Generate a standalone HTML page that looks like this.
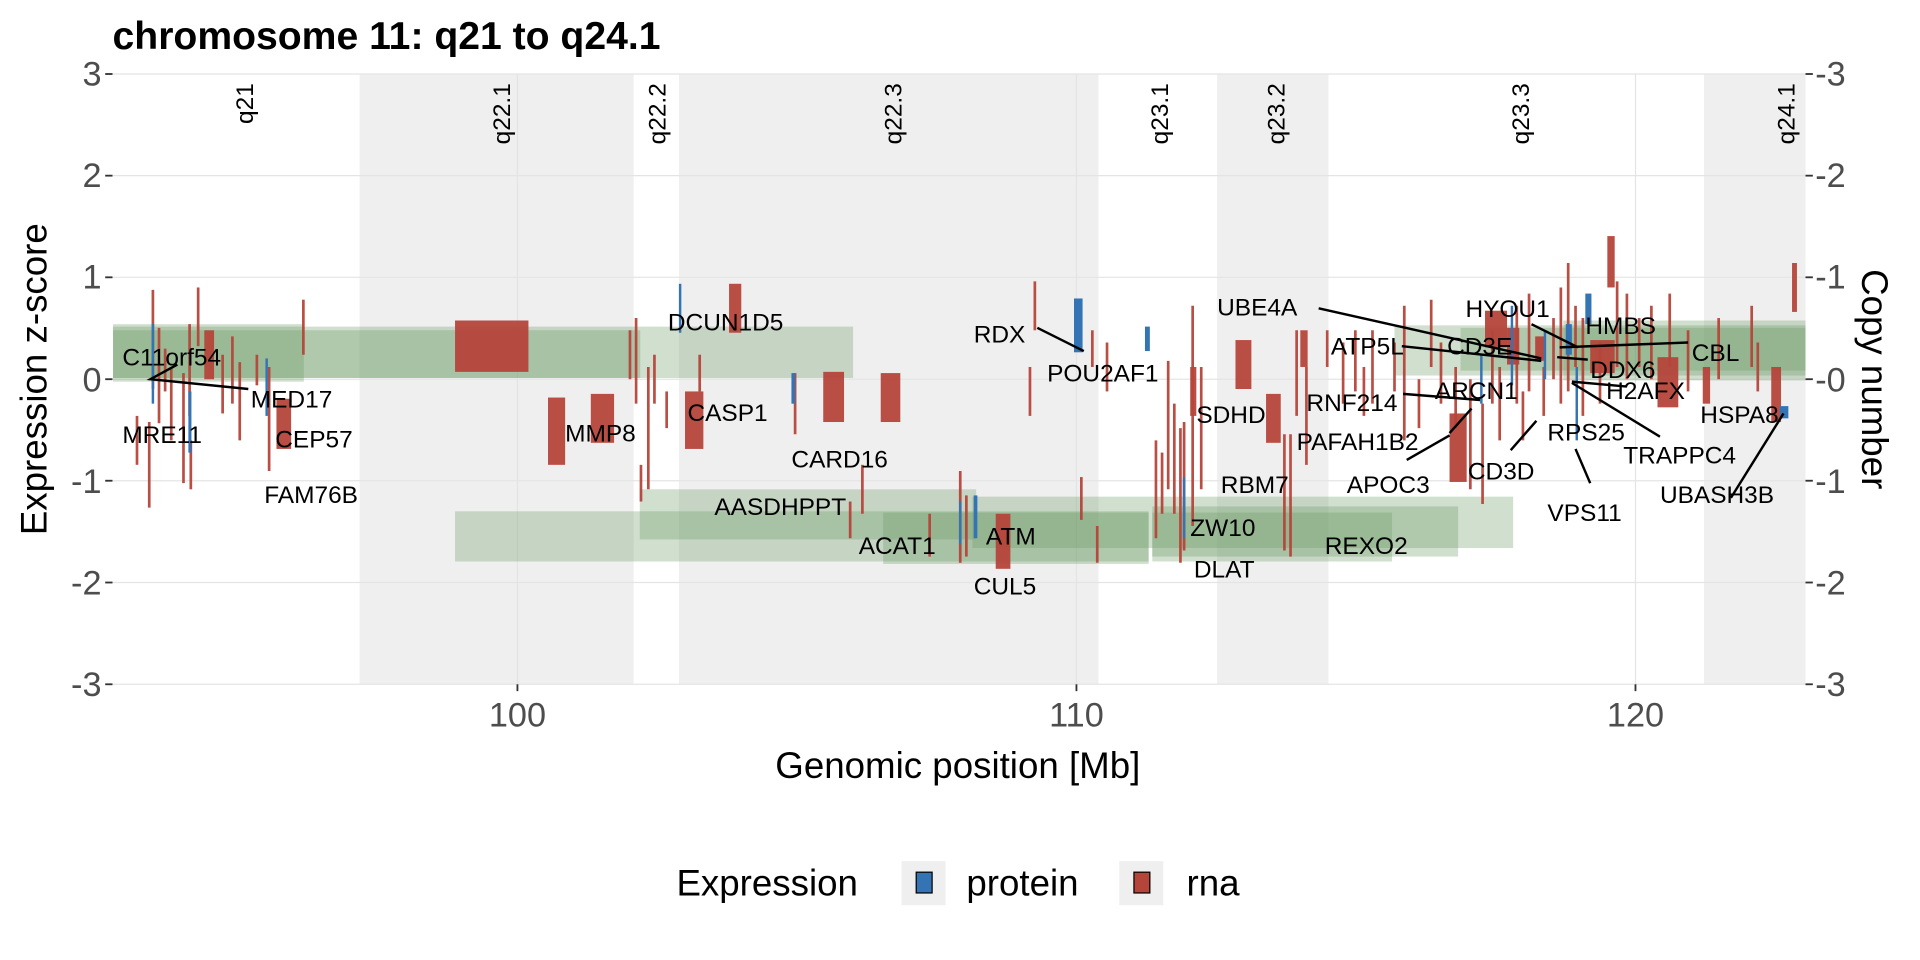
<!DOCTYPE html>
<html><head><meta charset="utf-8"><style>
html,body{margin:0;padding:0;background:#fff;}
svg{display:block;font-family:"Liberation Sans",Arial,sans-serif;}
</style></head><body>
<svg width="1920" height="960" viewBox="0 0 1569.6 784.8" preserveAspectRatio="none" xmlns="http://www.w3.org/2000/svg">
<rect width="1569.6" height="784.8" fill="#fff"/>
<g fill="#efefef">
<rect x="294" y="60.5" width="224" height="499"/>
<rect x="555" y="60.5" width="343" height="499"/>
<rect x="995" y="60.5" width="91" height="499"/>
<rect x="1393" y="60.5" width="83" height="499"/>
</g>
<g stroke="#e4e4e4" stroke-width="1">
<line x1="92.4" x2="1476" y1="60.5" y2="60.5"/><line x1="92.4" x2="1476" y1="143.6" y2="143.6"/>
<line x1="92.4" x2="1476" y1="226.7" y2="226.7"/><line x1="92.4" x2="1476" y1="310" y2="310"/>
<line x1="92.4" x2="1476" y1="393" y2="393"/><line x1="92.4" x2="1476" y1="476.2" y2="476.2"/>
<line x1="92.4" x2="1476" y1="559.4" y2="559.4"/>
<line x1="423" x2="423" y1="60.5" y2="559.4"/><line x1="880" x2="880" y1="60.5" y2="559.4"/><line x1="1337" x2="1337" y1="60.5" y2="559.4"/>
</g>
<g font-size="20" fill="#000" text-anchor="end">
<text transform="translate(207,68) rotate(-90)">q21</text>
<text transform="translate(417,68) rotate(-90)">q22.1</text>
<text transform="translate(544,68) rotate(-90)">q22.2</text>
<text transform="translate(737,68) rotate(-90)">q22.3</text>
<text transform="translate(955,68) rotate(-90)">q23.1</text>
<text transform="translate(1050,68) rotate(-90)">q23.2</text>
<text transform="translate(1250,68) rotate(-90)">q23.3</text>
<text transform="translate(1467,68) rotate(-90)">q24.1</text>
</g>
<g fill="#6e9a66" fill-opacity="0.32">
<rect x="92.4" y="267" width="605" height="42"/>
<rect x="92.4" y="270" width="431" height="39"/>
<rect x="92.4" y="265" width="156" height="47"/>
<rect x="1140" y="266" width="336" height="41"/>
<rect x="1194" y="268" width="282" height="35"/>
<rect x="1278" y="262" width="198" height="49"/>
<rect x="372" y="418" width="567" height="41"/>
<rect x="523" y="400" width="275" height="41"/>
<rect x="722" y="419" width="217" height="42"/>
<rect x="795" y="406" width="442" height="42"/>
<rect x="942" y="414" width="250" height="41"/>
<rect x="942" y="419" width="196" height="40"/>
</g>
<g fill="#b5443a" fill-opacity="0.95">
<rect x="372" y="262" width="60" height="42"/>
<rect x="448" y="325" width="14" height="55"/>
<rect x="483" y="322" width="19" height="40"/>
<rect x="560" y="320" width="15" height="47"/>
<rect x="596" y="232" width="10" height="40"/>
<rect x="673" y="304" width="17" height="41"/>
<rect x="720" y="305" width="16" height="40"/>
<rect x="1010" y="278" width="13" height="40"/>
<rect x="1035" y="322" width="12" height="40"/>
<rect x="1185" y="338" width="14" height="56"/>
<rect x="1214" y="254" width="18" height="30"/>
<rect x="1300" y="278" width="20" height="27"/>
<rect x="1355" y="292" width="17" height="41"/>
<rect x="1314" y="193" width="6" height="42"/>
<rect x="1465" y="215" width="4" height="40"/>
<rect x="814" y="420" width="12" height="45"/>
<rect x="167" y="270" width="8" height="40"/>
<rect x="226" y="326" width="12" height="41"/>
<rect x="1232" y="268" width="10" height="30"/>
<rect x="1255" y="275" width="8" height="20"/>
<rect x="1392" y="300" width="6" height="30"/>
<rect x="1448" y="300" width="8" height="45"/>
<rect x="973" y="300" width="5" height="40"/>
<rect x="1063" y="270" width="6" height="30"/>
</g>
<g stroke="#b5443a" stroke-width="2.2" stroke-opacity="0.95">
<line x1="112" x2="112" y1="340" y2="380"/><line x1="125" x2="125" y1="237" y2="318"/><line x1="130" x2="130" y1="268" y2="346"/>
<line x1="135" x2="135" y1="285" y2="320"/><line x1="140" x2="140" y1="300" y2="360"/><line x1="150" x2="150" y1="305" y2="395"/>
<line x1="155" x2="155" y1="265" y2="340"/><line x1="162" x2="162" y1="235" y2="283"/><line x1="182" x2="182" y1="290" y2="338"/>
<line x1="190" x2="190" y1="275" y2="330"/><line x1="196" x2="196" y1="296" y2="360"/><line x1="210" x2="210" y1="290" y2="315"/>
<line x1="220" x2="220" y1="300" y2="385"/><line x1="248" x2="248" y1="245" y2="290"/><line x1="122" x2="122" y1="345" y2="415"/>
<line x1="156" x2="156" y1="360" y2="400"/><line x1="520" x2="520" y1="260" y2="330"/><line x1="515" x2="515" y1="270" y2="310"/>
<line x1="524" x2="524" y1="380" y2="410"/><line x1="530" x2="530" y1="300" y2="400"/><line x1="535" x2="535" y1="290" y2="330"/>
<line x1="545" x2="545" y1="320" y2="350"/><line x1="572" x2="572" y1="290" y2="320"/><line x1="650" x2="650" y1="305" y2="355"/>
<line x1="695" x2="695" y1="410" y2="440"/><line x1="705" x2="705" y1="380" y2="420"/><line x1="760" x2="760" y1="420" y2="455"/>
<line x1="785" x2="785" y1="385" y2="460"/><line x1="790" x2="790" y1="405" y2="455"/><line x1="842" x2="842" y1="300" y2="340"/>
<line x1="846" x2="846" y1="230" y2="270"/><line x1="884" x2="884" y1="390" y2="425"/><line x1="893" x2="893" y1="270" y2="300"/>
<line x1="897" x2="897" y1="430" y2="460"/><line x1="905" x2="905" y1="280" y2="320"/><line x1="945" x2="945" y1="360" y2="440"/>
<line x1="950" x2="950" y1="370" y2="420"/><line x1="955" x2="955" y1="295" y2="400"/><line x1="960" x2="960" y1="330" y2="420"/>
<line x1="965" x2="965" y1="350" y2="460"/><line x1="968" x2="968" y1="345" y2="450"/><line x1="975" x2="975" y1="250" y2="430"/>
<line x1="982" x2="982" y1="300" y2="400"/><line x1="1050" x2="1050" y1="355" y2="450"/><line x1="1055" x2="1055" y1="355" y2="455"/>
<line x1="1060" x2="1060" y1="270" y2="340"/><line x1="1068" x2="1068" y1="300" y2="380"/><line x1="1085" x2="1085" y1="270" y2="300"/>
<line x1="1098" x2="1098" y1="280" y2="330"/><line x1="1108" x2="1108" y1="270" y2="320"/><line x1="1115" x2="1115" y1="300" y2="340"/>
<line x1="1122" x2="1122" y1="270" y2="330"/><line x1="1140" x2="1140" y1="280" y2="320"/><line x1="1148" x2="1148" y1="250" y2="360"/>
<line x1="1160" x2="1160" y1="310" y2="350"/><line x1="1170" x2="1170" y1="245" y2="300"/><line x1="1178" x2="1178" y1="280" y2="330"/>
<line x1="1190" x2="1190" y1="300" y2="350"/><line x1="1202" x2="1202" y1="310" y2="400"/><line x1="1212" x2="1212" y1="330" y2="412"/>
<line x1="1220" x2="1220" y1="270" y2="330"/><line x1="1226" x2="1226" y1="300" y2="360"/><line x1="1240" x2="1240" y1="250" y2="330"/>
<line x1="1245" x2="1245" y1="320" y2="360"/><line x1="1250" x2="1250" y1="240" y2="320"/><line x1="1262" x2="1262" y1="300" y2="340"/>
<line x1="1270" x2="1270" y1="260" y2="310"/><line x1="1276" x2="1276" y1="235" y2="330"/><line x1="1282" x2="1282" y1="215" y2="320"/>
<line x1="1288" x2="1288" y1="250" y2="300"/><line x1="1294" x2="1294" y1="260" y2="340"/><line x1="1308" x2="1308" y1="280" y2="330"/>
<line x1="1322" x2="1322" y1="230" y2="300"/><line x1="1330" x2="1330" y1="240" y2="310"/><line x1="1340" x2="1340" y1="260" y2="300"/>
<line x1="1350" x2="1350" y1="250" y2="310"/><line x1="1365" x2="1365" y1="240" y2="300"/><line x1="1380" x2="1380" y1="270" y2="320"/>
<line x1="1405" x2="1405" y1="260" y2="310"/><line x1="1432" x2="1432" y1="250" y2="300"/><line x1="1437" x2="1437" y1="280" y2="320"/>
</g>
<g fill="#3474b4">
<rect x="124" y="265" width="2" height="65"/><rect x="154" y="320" width="2.5" height="50"/><rect x="217" y="293" width="2" height="47"/>
<rect x="555" y="232" width="2" height="40"/><rect x="647" y="305" width="3" height="25"/><rect x="796" y="405" width="3" height="35"/>
<rect x="784" y="410" width="2" height="35"/><rect x="878" y="244" width="7" height="44"/><rect x="936" y="267" width="4" height="20"/>
<rect x="967" y="390" width="2" height="50"/><rect x="1210" y="290" width="2" height="40"/><rect x="1235" y="250" width="2" height="65"/>
<rect x="1262" y="270" width="2" height="40"/><rect x="1280" y="265" width="5" height="25"/><rect x="1296" y="240" width="5" height="25"/>
<rect x="1288" y="300" width="2" height="60"/><rect x="1455" y="332" width="7" height="10"/>
</g>
<g stroke="#000" stroke-width="2" fill="none">
<polyline points="145,298 123,310 203,318"/>
<line x1="848" y1="268" x2="886" y2="287"/>
<line x1="1078" y1="252" x2="1260" y2="293"/>
<line x1="1146" y1="283" x2="1260" y2="295"/>
<line x1="1147" y1="322" x2="1210" y2="327"/>
<line x1="1185" y1="354" x2="1203" y2="334"/>
<line x1="1150" y1="376" x2="1185" y2="356"/>
<line x1="1235" y1="368" x2="1256" y2="344"/>
<line x1="1252" y1="265" x2="1290" y2="284"/>
<line x1="1275" y1="284" x2="1380" y2="280"/>
<line x1="1273" y1="292" x2="1298" y2="294"/>
<line x1="1285" y1="312" x2="1330" y2="316"/>
<line x1="1285" y1="313" x2="1357" y2="357"/>
<line x1="1288" y1="367" x2="1300" y2="395"/>
<line x1="1415" y1="407" x2="1458" y2="338"/>
</g>
<g font-size="20" fill="#000">
<text x="100" y="299">C11orf54</text><text x="205" y="333">MED17</text><text x="100" y="362">MRE11</text>
<text x="225" y="366">CEP57</text><text x="216" y="411">FAM76B</text><text x="462" y="361">MMP8</text>
<text x="562" y="344">CASP1</text><text x="546" y="270">DCUN1D5</text><text x="647" y="382">CARD16</text>
<text x="584" y="421">AASDHPPT</text><text x="702" y="453">ACAT1</text><text x="806" y="445">ATM</text>
<text x="796" y="486">CUL5</text><text x="796" y="280">RDX</text><text x="856" y="312">POU2AF1</text>
<text x="978" y="346">SDHD</text><text x="998" y="403">RBM7</text><text x="973" y="438">ZW10</text>
<text x="976" y="472">DLAT</text><text x="1083" y="453">REXO2</text><text x="995" y="258">UBE4A</text>
<text x="1088" y="290">ATP5L</text><text x="1183" y="290">CD3E</text><text x="1068" y="336">RNF214</text>
<text x="1173" y="326">ARCN1</text><text x="1060" y="368">PAFAH1B2</text><text x="1101" y="403">APOC3</text>
<text x="1200" y="392">CD3D</text><text x="1265" y="360">RPS25</text><text x="1265" y="426">VPS11</text>
<text x="1198" y="259">HYOU1</text><text x="1296" y="273">HMBS</text><text x="1383" y="295">CBL</text>
<text x="1300" y="309">DDX6</text><text x="1313" y="326">H2AFX</text><text x="1390" y="346">HSPA8</text>
<text x="1327" y="379">TRAPPC4</text><text x="1357" y="411">UBASH3B</text>
</g>
<g stroke="#333" stroke-width="1.5">
<line x1="86" x2="92" y1="60.5" y2="60.5"/><line x1="86" x2="92" y1="143.6" y2="143.6"/><line x1="86" x2="92" y1="226.7" y2="226.7"/>
<line x1="86" x2="92" y1="310" y2="310"/><line x1="86" x2="92" y1="393" y2="393"/><line x1="86" x2="92" y1="476.2" y2="476.2"/><line x1="86" x2="92" y1="559.4" y2="559.4"/>
<line x1="1476" x2="1482" y1="60.5" y2="60.5"/><line x1="1476" x2="1482" y1="143.6" y2="143.6"/><line x1="1476" x2="1482" y1="226.7" y2="226.7"/>
<line x1="1476" x2="1482" y1="310" y2="310"/><line x1="1476" x2="1482" y1="393" y2="393"/><line x1="1476" x2="1482" y1="476.2" y2="476.2"/><line x1="1476" x2="1482" y1="559.4" y2="559.4"/>
<line x1="423" x2="423" y1="559.4" y2="565"/><line x1="880" x2="880" y1="559.4" y2="565"/><line x1="1337" x2="1337" y1="559.4" y2="565"/>
</g>
<g font-size="28" fill="#4d4d4d" text-anchor="end">
<text x="83" y="70">3</text><text x="83" y="153">2</text><text x="83" y="236">1</text><text x="83" y="320">0</text>
<text x="83" y="403">-1</text><text x="83" y="486">-2</text><text x="83" y="569">-3</text>
</g>
<g font-size="28" fill="#4d4d4d">
<text x="1484" y="70">-3</text><text x="1484" y="153">-2</text><text x="1484" y="236">-1</text><text x="1484" y="320">-0</text>
<text x="1484" y="403">-1</text><text x="1484" y="486">-2</text><text x="1484" y="569">-3</text>
</g>
<g font-size="28" fill="#4d4d4d" text-anchor="middle">
<text x="423" y="594">100</text><text x="880" y="594">110</text><text x="1337" y="594">120</text>
</g>
<text x="783" y="636" font-size="30" text-anchor="middle">Genomic position [Mb]</text>
<text transform="translate(38,310) rotate(-90)" font-size="30" text-anchor="middle">Expression z-score</text>
<text transform="translate(1522,310) rotate(90)" font-size="30" text-anchor="middle">Copy number</text>
<text x="92" y="40" font-size="32" font-weight="bold">chromosome 11: q21 to q24.1</text>
<text x="553" y="732" font-size="30">Expression</text>
<rect x="737" y="704" width="36" height="36" fill="#efefef"/>
<rect x="749" y="713" width="13" height="17" fill="#3474b4" stroke="#000" stroke-width="1"/>
<text x="790" y="732" font-size="30">protein</text>
<rect x="915" y="704" width="36" height="36" fill="#efefef"/>
<rect x="927" y="713" width="13" height="17" fill="#b5443a" stroke="#000" stroke-width="1"/>
<text x="970" y="732" font-size="30">rna</text>
</svg>
</body></html>
